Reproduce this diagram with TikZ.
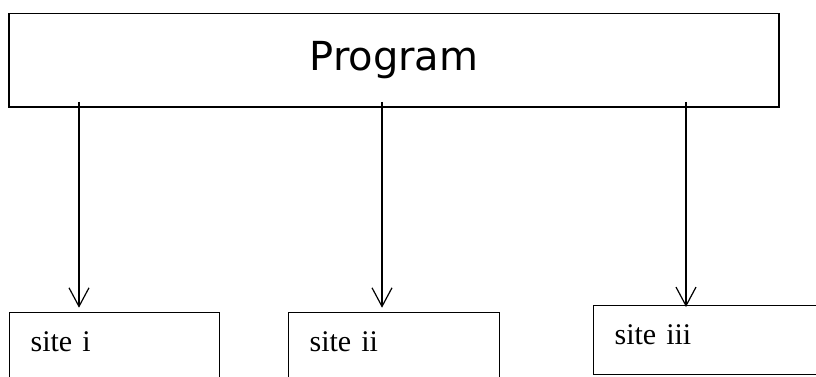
\documentclass[tikz,border=0pt]{standalone}
\usepackage{fontspec}
\setmainfont{Liberation Serif}
\newfontfamily\progfont{DejaVu Sans}
\usetikzlibrary{arrows.meta}
\begin{document}
\begin{tikzpicture}[x=0.75pt,y=-0.75pt,
  progbox/.style={draw,line width=1.2pt,minimum width=577.5pt,minimum height=70pt,
    font=\progfont\fontsize{30}{36}\selectfont},
  sitebox/.style={draw,line width=0.9pt,anchor=north west,align=left,
    inner xsep=15.75pt,inner ysep=13.85pt,text height=15.4pt,text depth=8.65pt,
    font=\fontsize{22.5}{27}\selectfont},
  flow/.style={-{Straight Barb[length=14pt,width=15pt,line width=0.9pt]},line width=0.9pt}]
  \useasboundingbox (0,0) rectangle (816,376);
  \node[progbox] (prog) at (394,60.3) {Program};
  % the three sites, cut off at the bottom
  \node[sitebox,text width=126pt] (si) at (9,311.7) {site i};
  \node[sitebox,text width=126.75pt] (sii) at (288,311.7) {site ii};
  \node[sitebox,text width=141pt] (siii) at (593,305) {site iii};
  \foreach \s/\x/\g in {si/79/4, sii/382/4, siii/686/-2}
    \draw[flow,shorten >=\g*0.75pt] (prog.south -| \x,0) ++(0,-6) -- (\s.north -| \x,0);
\end{tikzpicture}
\end{document}
